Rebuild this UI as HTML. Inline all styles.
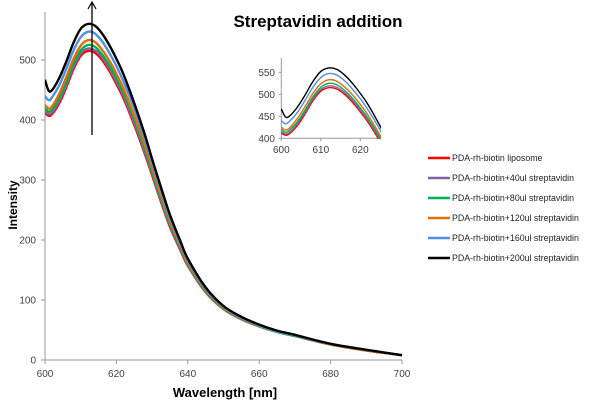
<!DOCTYPE html>
<html><head><meta charset="utf-8"><style>
body{margin:0;background:#fff}
svg{display:block;font-family:"Liberation Sans",sans-serif}
</style></head><body>
<svg id="chart" width="600" height="403" viewBox="0 0 600 403">
<defs>
<clipPath id="mainclip"><rect x="45" y="0" width="358" height="361"/></clipPath>
<clipPath id="insclip"><rect x="281" y="60" width="100" height="79"/></clipPath>
</defs>
<g id="main"></g>
<g id="inset"></g>
<text x="318" y="27" text-anchor="middle" font-size="17" font-weight="bold">Streptavidin addition</text>
<text x="225" y="397" text-anchor="middle" font-size="13" font-weight="bold">Wavelength [nm]</text>
<text transform="translate(17,205) rotate(-90)" text-anchor="middle" font-size="12" font-weight="bold">Intensity</text>
<g id="legend"></g>
<g>
<line x1="92" y1="135" x2="92" y2="3" stroke="#000" stroke-width="1.3"/>
<polyline points="88,9 92,2 96,9" fill="none" stroke="#000" stroke-width="1.2"/>
</g>
</svg>
<script>
const wavelengths=[600,601,602,604,606,608,610,612,614,616,618,620,622,625,628,630,632,635,638,640,645,650,655,660,665,670,680,690,700];
const sRed=[412,407,410,428,455,485,507,515,512,500,482,460,436,392,343,308,272,222,182,157,113,85,68,56,47,40,26,16,8];
const sPurple=[415,410,413,432,459,489,511,519,516,504,486,464,440,396,346,311,274,224,184,158,114,85,68,56,47,40,26,16,8];
const sGreen=[420,414,418,437,464,494,516,525,522,509,491,469,445,401,351,315,278,227,186,160,115,86,69,56,47,40,26,16,8];
const sOrange=[425,419,423,444,472,502,524,533,530,517,499,477,452,407,357,320,283,231,189,162,117,87,70,57,48,41,26,16,8];
const sBlue=[440,433,438,458,486,516,538,547,544,531,512,490,464,419,367,328,291,237,193,166,119,89,71,58,48,41,27,17,8];
const sBlack=[467,449,450,470,498,529,552,560,557,544,525,502,476,428,375,335,297,242,197,169,121,90,72,59,49,42,27,17,8];
const seriesNames=["PDA-rh-biotin liposome","PDA-rh-biotin+40ul streptavidin","PDA-rh-biotin+80ul streptavidin","PDA-rh-biotin+120ul streptavidin","PDA-rh-biotin+160ul streptavidin","PDA-rh-biotin+200ul streptavidin"];
const seriesData=[sRed,sPurple,sGreen,sOrange,sBlue,sBlack];
const colors=["#ff0000","#8064a2","#00b050","#e46c0a","#4f8fe6","#000000"];
const xTicks=[600,620,640,660,680,700];
const yTicks=[0,100,200,300,400,500];
const inXTicks=[600,610,620];
const inYTicks=[400,450,500,550];
const NS="http://www.w3.org/2000/svg";
function mk(t,a,p){const e=document.createElementNS(NS,t);for(const k in a)e.setAttribute(k,a[k]);p.appendChild(e);return e;}
function pathFor(xs,ys,fx,fy){const P=xs.map((x,i)=>[fx(x),fy(ys[i])]);let d="M"+P[0][0]+","+P[0][1];
for(let i=0;i<P.length-1;i++){const p0=P[i-1]||P[i],p1=P[i],p2=P[i+1],p3=P[i+2]||P[i+1];
d+=" C"+(p1[0]+(p2[0]-p0[0])/6)+","+(p1[1]+(p2[1]-p0[1])/6)+" "+(p2[0]-(p3[0]-p1[0])/6)+","+(p2[1]-(p3[1]-p1[1])/6)+" "+p2[0]+","+p2[1];}return d;}
const mx=v=>45+(v-600)*3.57, my=v=>360-v*0.6;
const main=document.getElementById('main');
mk('line',{x1:45,y1:12,x2:45,y2:360,stroke:'#999','stroke-width':1},main);
mk('line',{x1:45,y1:360,x2:402,y2:360,stroke:'#999','stroke-width':1},main);
xTicks.forEach(t=>{mk('line',{x1:mx(t),y1:360,x2:mx(t),y2:364,stroke:'#999'},main);
const tx=mk('text',{x:mx(t),y:377,'text-anchor':'middle','font-size':10,fill:'#404040'},main);tx.textContent=t;

});
yTicks.forEach(t=>{mk('line',{x1:41,y1:my(t),x2:45,y2:my(t),stroke:'#999'},main);
const tx=mk('text',{x:36,y:my(t)+3.5,'text-anchor':'end','font-size':10,fill:'#404040'},main);tx.textContent=t;

});
const mg=mk('g',{'clip-path':'url(#mainclip)'},main);
seriesData.forEach((s,i)=>{const p=mk('path',{d:pathFor(wavelengths,s,mx,my),fill:'none',stroke:colors[i],'stroke-width':2.4},mg);

});
const ix=v=>281.3+(v-600)*3.95, iy=v=>138.3-(v-400)*0.44;
const ins=document.getElementById('inset');
mk('line',{x1:281.3,y1:58,x2:281.3,y2:138.3,stroke:'#999'},ins);
mk('line',{x1:281.3,y1:138.3,x2:381,y2:138.3,stroke:'#999'},ins);
inXTicks.forEach(t=>{mk('line',{x1:ix(t),y1:138.3,x2:ix(t),y2:141,stroke:'#999'},ins);
const tx=mk('text',{x:ix(t),y:153,'text-anchor':'middle','font-size':10,fill:'#404040'},ins);tx.textContent=t;

});
inYTicks.forEach(t=>{mk('line',{x1:278.5,y1:iy(t),x2:281.3,y2:iy(t),stroke:'#999'},ins);
const tx=mk('text',{x:275,y:iy(t)+3.5,'text-anchor':'end','font-size':10,fill:'#404040'},ins);tx.textContent=t;

});
const ig=mk('g',{'clip-path':'url(#insclip)'},ins);
seriesData.forEach((s,i)=>{const p=mk('path',{d:pathFor(wavelengths,s,ix,iy),fill:'none',stroke:colors[i],'stroke-width':1.4},ig);

});
const lg=document.getElementById('legend');
seriesNames.forEach((n,i)=>{const y=158+i*20;const g=mk('g',{},lg);


mk('line',{x1:428,y1:y,x2:450,y2:y,stroke:colors[i],'stroke-width':2.5},g);
const t=mk('text',{x:452,y:y+3,'font-size':8.8,fill:'#222'},g);t.textContent=n;});
</script>
</body></html>
